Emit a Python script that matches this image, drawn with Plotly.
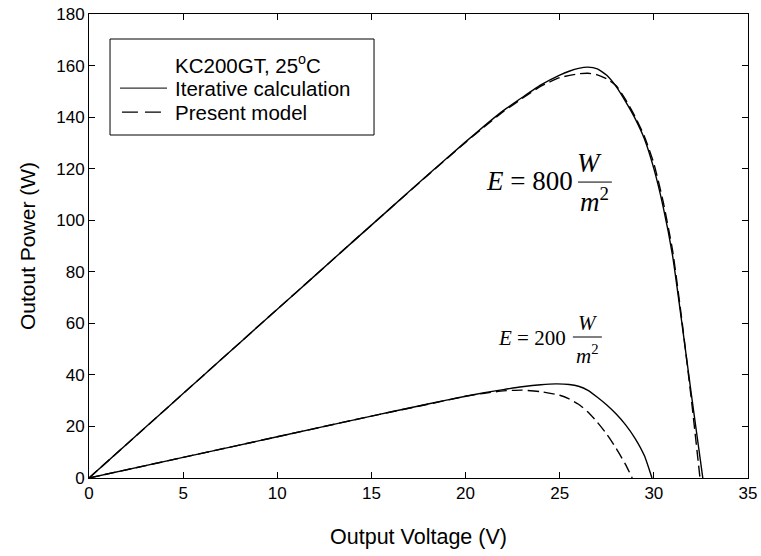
import plotly.graph_objects as go

# Upper curves: E = 800 W/m^2
v800_iter = [0, 2, 4, 6, 8, 10, 12, 14, 16, 18, 20, 21, 22, 23, 24, 25, 25.5, 26, 26.5, 27, 27.5, 28, 28.5, 29, 29.5, 30, 30.5, 31, 31.5, 32, 32.3, 32.6]
p800_iter = [0, 13.1, 26.2, 39.3, 52.4, 65.5, 78.5, 91.6, 104.6, 117.6, 130.4, 136.6, 142.5, 147.6, 152.5, 156.3, 157.8, 158.9, 159.4, 158.7, 156.2, 151.8, 146.0, 139.5, 131.5, 120.0, 105.0, 86.0, 59.5, 32.0, 16.0, 0]
v800_model = [0, 2, 4, 6, 8, 10, 12, 14, 16, 18, 20, 21, 22, 23, 24, 25, 26, 26.5, 27, 27.5, 28, 28.5, 29, 29.5, 30, 30.5, 31, 31.5, 32, 32.45]
p800_model = [0, 13.1, 26.2, 39.3, 52.4, 65.5, 78.5, 91.6, 104.6, 117.5, 130.2, 136.3, 142.1, 147.2, 152.0, 155.3, 156.8, 157.0, 156.4, 154.8, 152.2, 146.8, 140.2, 132.5, 122.0, 107.0, 88.0, 60.5, 30.0, 0]

# Lower curves: E = 200 W/m^2
v200_iter = [0, 5, 10, 15, 16, 18, 20, 21, 22, 23, 24, 24.8, 25.5, 26, 26.5, 27, 27.5, 28, 28.5, 29, 29.5, 29.9]
p200_iter = [0, 8.0, 16.0, 24.0, 25.6, 28.7, 31.7, 33.1, 34.3, 35.4, 36.2, 36.5, 36.3, 35.6, 34.0, 31.3, 28.3, 24.8, 20.6, 15.4, 8.6, 0]
v200_model = [0, 5, 10, 15, 18, 20, 21, 22, 23, 24, 25, 25.5, 26, 26.5, 27, 27.5, 28, 28.5, 28.85]
p200_model = [0, 8.0, 16.0, 24.0, 28.6, 31.7, 32.9, 33.8, 34.1, 33.5, 32.1, 30.7, 28.6, 25.6, 21.6, 17.0, 11.5, 5.2, 0]

legend_title = "KC200GT, 25<sup>o</sup>C"
series_names = ["Iterative calculation", "Present model"]

BLACK = "#000000"
DASH = "11px,5px"
SANS = "Liberation Sans"
SERIF = "Liberation Serif"

fig = go.Figure()
line_kw = dict(color=BLACK, width=1.4, shape="spline", smoothing=0.5)
fig.add_trace(go.Scatter(x=v800_iter, y=p800_iter, mode="lines", name=series_names[0],
                         showlegend=False, line=line_kw))
fig.add_trace(go.Scatter(x=v800_model, y=p800_model, mode="lines", name=series_names[1],
                         showlegend=False, line=dict(line_kw, dash=DASH)))
fig.add_trace(go.Scatter(x=v200_iter, y=p200_iter, mode="lines", name=series_names[0],
                         showlegend=False, line=line_kw))
fig.add_trace(go.Scatter(x=v200_model, y=p200_model, mode="lines", name=series_names[1],
                         showlegend=False, line=dict(line_kw, dash=DASH)))

ann = []
shapes = []

# ---- manual legend (paper coordinates) ----
lx0, lx1, ly0, ly1 = 0.0319, 0.4325, 0.7392, 0.9461
shapes.append(dict(type="rect", xref="paper", yref="paper", x0=lx0, x1=lx1, y0=ly0, y1=ly1,
                   line=dict(color=BLACK, width=1), fillcolor="white", layer="above"))
text_x = 0.1275
rows_y = [0.8912, 0.8394, 0.7877]
for txt, yy in zip([legend_title] + series_names, rows_y):
    ann.append(dict(xref="paper", yref="paper", x=text_x, y=yy, text=txt, showarrow=False,
                    xanchor="left", yanchor="middle",
                    font=dict(family=SANS, size=20.5, color=BLACK)))
shapes.append(dict(type="line", xref="paper", yref="paper", x0=0.0470, x1=0.1184,
                   y0=rows_y[1] + 0.001, y1=rows_y[1] + 0.001,
                   line=dict(color="#333333", width=1.2), layer="above"))
shapes.append(dict(type="line", xref="paper", yref="paper", x0=0.0500, x1=0.1184,
                   y0=rows_y[2] + 0.001, y1=rows_y[2] + 0.001,
                   line=dict(color=BLACK, width=1.2, dash="16px,7px"), layer="above"))

# ---- E = 800 W/m^2 ----
ann.append(dict(x=25.8, y=115.2, text="<i>E</i> = 800", showarrow=False, xanchor="right",
                yanchor="middle", font=dict(family=SERIF, size=27, color=BLACK)))
ann.append(dict(x=26.6, y=122.3, text="<i>W</i>", showarrow=False, xanchor="center",
                yanchor="middle", font=dict(family=SERIF, size=27, color=BLACK)))
ann.append(dict(x=26.85, y=107.8, text="<i>m</i><sup>2</sup>", showarrow=False, xanchor="center",
                yanchor="middle", font=dict(family=SERIF, size=27, color=BLACK)))
shapes.append(dict(type="line", xref="x", yref="y", x0=25.97, x1=27.77, y0=114.8, y1=114.8,
                   line=dict(color=BLACK, width=1)))

# ---- E = 200 W/m^2 ----
ann.append(dict(x=25.45, y=54.4, text="<i>E</i> = 200", showarrow=False, xanchor="right",
                yanchor="middle", font=dict(family=SERIF, size=21, color=BLACK)))
ann.append(dict(x=26.5, y=60.0, text="<i>W</i>", showarrow=False, xanchor="center",
                yanchor="middle", font=dict(family=SERIF, size=21, color=BLACK)))
ann.append(dict(x=26.45, y=48.0, text="<i>m</i><sup>2</sup>", showarrow=False, xanchor="center",
                yanchor="middle", font=dict(family=SERIF, size=21, color=BLACK)))
shapes.append(dict(type="line", xref="x", yref="y", x0=25.7, x1=27.24, y0=54.7, y1=54.7,
                   line=dict(color=BLACK, width=1)))

axis_common = dict(showline=True, linecolor=BLACK, linewidth=1, mirror="ticks",
                   ticks="inside", ticklen=6, tickcolor=BLACK, tickwidth=1,
                   showgrid=False, zeroline=False, automargin=False,
                   tickfont=dict(family=SANS, size=17, color=BLACK))

fig.update_layout(
    template="none",
    width=761, height=556,
    margin=dict(l=89, r=13, t=14, b=78, pad=0),
    paper_bgcolor="white", plot_bgcolor="white",
    showlegend=False,
    xaxis=dict(range=[0, 35], dtick=5, tick0=0,
               title=dict(text="Output Voltage (V)", standoff=26,
                          font=dict(family=SANS, size=21.5, color=BLACK)),
               **axis_common),
    yaxis=dict(range=[0, 180], dtick=20, tick0=0,
               title=dict(text="Outout Power (W)", standoff=14,
                          font=dict(family=SANS, size=21, color=BLACK)),
               **axis_common),
    annotations=ann,
    shapes=shapes,
)

fig.write_html("out.html")
